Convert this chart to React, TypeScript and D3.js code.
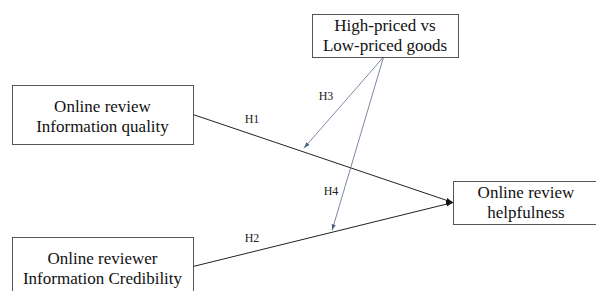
import React, { useEffect, useRef } from 'react';
import * as d3 from 'd3';

// constructs
const nodeIds = ['quality', 'credibility', 'price', 'helpfulness'];
const nodeLines = [
  ['Online review', 'Information quality'],
  ['Online reviewer', 'Information Credibility'],
  ['High-priced vs', 'Low-priced goods'],
  ['Online review', 'helpfulness'],
];

// paths between constructs
const edgeFrom = ['quality', 'credibility', 'price', 'price'];
const edgeTo = ['helpfulness', 'helpfulness', 'H1', 'H2'];
const edgeLabels = ['H1', 'H2', 'H3', 'H4'];

// layout (pixel boxes)
const boxes: Record<string, { x: number; y: number; w: number; h: number }> = {
  quality: { x: 12, y: 85, w: 181, h: 59 },
  credibility: { x: 12, y: 237, w: 181, h: 59 },
  price: { x: 312, y: 14, w: 146, h: 43 },
  helpfulness: { x: 453, y: 181, w: 146, h: 43 },
};
const labelPos = [
  [252, 120],
  [252, 239],
  [326, 97],
  [331, 192],
];
// fraction along the main path where moderator arrows land, and offset above it
const moderatorT: Record<string, number> = { H1: 0.427, H2: 0.535 };
const moderatorDy: Record<string, number> = { H1: -4, H2: -2 };

export default function App() {
  const svgRef = useRef<SVGSVGElement>(null);

  useEffect(() => {
    if (!svgRef.current) return;
    const width = 596;
    const height = 291;
    const svg = d3.select(svgRef.current).attr('width', width).attr('height', height);
    svg.selectAll('*').remove();

    const defs = svg.append('defs');
    const marker = (id: string, color: string, size: number) => {
      defs.append('marker')
        .attr('id', id)
        .attr('viewBox', '0 0 10 10')
        .attr('refX', 10)
        .attr('refY', 5)
        .attr('markerWidth', size)
        .attr('markerHeight', size)
        .attr('markerUnits', 'userSpaceOnUse')
        .attr('orient', 'auto')
        .append('path')
        .attr('d', 'M0,1.5L10,5L0,8.5Z')
        .attr('fill', color);
    };
    marker('arrMain', '#111', 7);
    marker('arrMod', '#4f5f7f', 6);

    const rightMid = (id: string) => {
      const b = boxes[id];
      return [b.x + b.w, b.y + b.h / 2];
    };
    const leftMid = (id: string) => {
      const b = boxes[id];
      return [b.x, b.y + b.h / 2];
    };
    const bottomMid = (id: string) => {
      const b = boxes[id];
      return [b.x + b.w * 0.49, b.y + b.h];
    };

    const line = d3.line();
    const mainEnds: Record<string, number[][]> = {};

    edgeLabels.forEach((lab, i) => {
      let p0: number[];
      let p1: number[];
      let mod = false;
      if (edgeTo[i] === 'helpfulness') {
        p0 = rightMid(edgeFrom[i]);
        p1 = leftMid(edgeTo[i]);
        mainEnds[lab] = [p0, p1];
      } else {
        mod = true;
        p0 = bottomMid(edgeFrom[i]);
        const [a, b] = mainEnds[edgeTo[i]];
        const t = moderatorT[edgeTo[i]];
        p1 = [a[0] + (b[0] - a[0]) * t, a[1] + (b[1] - a[1]) * t + moderatorDy[edgeTo[i]]];
      }
      svg.append('path')
        .attr('d', line([p0 as [number, number], p1 as [number, number]]))
        .attr('fill', 'none')
        .attr('stroke', mod ? '#5a6a8a' : '#222')
        .attr('stroke-width', mod ? 0.8 : 1)
        .attr('marker-end', mod ? 'url(#arrMod)' : 'url(#arrMain)');

      svg.append('text')
        .attr('x', labelPos[i][0])
        .attr('y', labelPos[i][1])
        .attr('text-anchor', 'middle')
        .attr('dominant-baseline', 'middle')
        .attr('font-family', '"Liberation Serif", "Times New Roman", serif')
        .attr('font-size', 12)
        .attr('fill', '#222')
        .text(lab);
    });

    nodeIds.forEach((id, i) => {
      const b = boxes[id];
      const g = svg.append('g');
      g.append('rect')
        .attr('x', b.x + 0.5)
        .attr('y', b.y + 0.5)
        .attr('width', b.w)
        .attr('height', b.h)
        .attr('fill', '#fff')
        .attr('stroke', '#555')
        .attr('stroke-width', 1);
      const cy = id === 'quality' || id === 'credibility' ? b.y + 31 : b.y + b.h / 2;
      nodeLines[i].forEach((t, j) => {
        g.append('text')
          .attr('x', b.x + b.w / 2)
          .attr('y', cy + (j - 0.5) * 20)
          .attr('text-anchor', 'middle')
          .attr('dominant-baseline', 'central')
          .attr('font-family', '"Liberation Serif", "Times New Roman", serif')
          .attr('font-size', 17)
          .attr('fill', '#111')
          .text(t);
      });
    });
  }, []);

  return (
    <svg
      ref={svgRef}
      style={{ position: 'absolute', left: 0, top: 0, background: '#fff' }}
    />
  );
}
